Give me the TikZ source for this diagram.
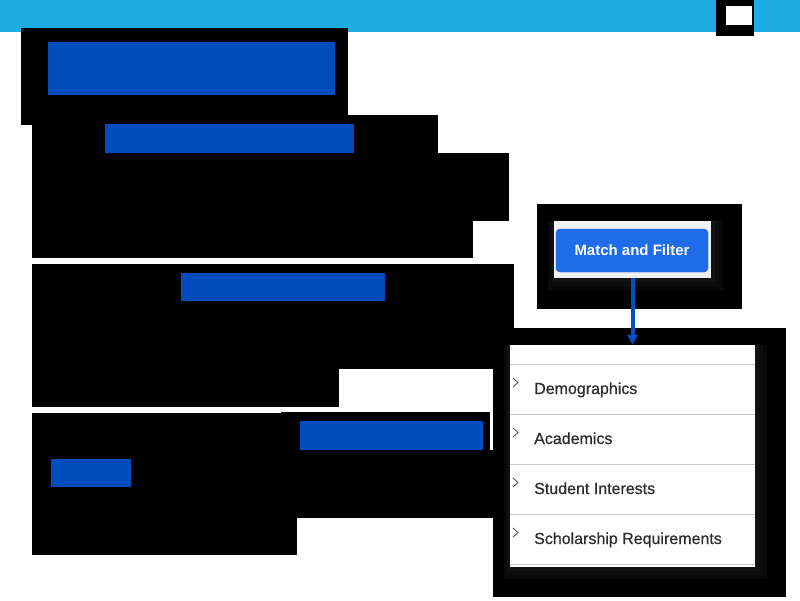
\documentclass[tikz,border=0pt]{standalone}
\usepackage{fontspec}
\setmainfont{Liberation Sans}
\newfontfamily\itemfont[FakeBold=0.6]{Liberation Sans}
\usetikzlibrary{arrows.meta,positioning}

\definecolor{banner}{RGB}{30,171,226}
\definecolor{barblue}{RGB}{0,77,190}
\definecolor{btnblue}{RGB}{31,108,235}
\definecolor{btnedge}{RGB}{22,84,196}
\definecolor{arrowblue}{RGB}{4,78,196}
\definecolor{panelgray}{RGB}{238,242,243}
\definecolor{rulegray}{RGB}{200,205,208}
\definecolor{itemtext}{RGB}{45,45,45}

\tikzset{
  btn/.style={rounded corners=4pt,fill=btnblue,draw=btnedge,text=white,
    minimum width=152pt,minimum height=43pt,inner sep=0pt,
    font=\bfseries\fontsize{15}{18}\selectfont},
  itemlabel/.style={anchor=base west,inner sep=0pt,text=itemtext,
    font=\itemfont\fontsize{16}{19}\selectfont},
  chev/.style={draw=black!70,line width=0.8pt},
  sepline/.style={draw=rulegray,line width=1pt},
  flow/.style={draw=arrowblue,line width=4pt,-{Triangle[width=10pt,length=10pt]}}
}

\begin{document}
\begin{tikzpicture}[x=1pt,y=-1pt]
  \useasboundingbox (0,0) rectangle (800,600);

  % top banner
  \fill[banner] (0,0) rectangle (800,32);
  \fill (716,0) rectangle (754,36);
  \fill[white] (726,6) rectangle (752,25);

  % blacked out blocks
  \begin{scope}[every path/.style={fill=black}]
    \fill (21,28) rectangle (348,125);
    \fill (32,115) rectangle (438,153);
    \fill (32,153) rectangle (509,221);
    \fill (32,221) rectangle (473,258);
    \fill (32,264) rectangle (514,369);
    \fill (32,369) rectangle (339,407);
    \fill (32,413) rectangle (297,555);
    \fill (281,412) rectangle (490,450);
    \fill (281,450) rectangle (493,518);
    \fill (537,204) rectangle (742,309);
    \fill (493,328) rectangle (786,597);
  \end{scope}

  % blue headings
  \begin{scope}[every path/.style={fill=barblue}]
    \fill (48,42) rectangle (335,95);
    \fill (105,124) rectangle (354,153);
    \fill (181,273) rectangle (385,301);
    \fill (300,421) rectangle (483,450);
    \fill (51,459) rectangle (131,487);
  \end{scope}

  % soft shadows
  \foreach \d/\c in {12/97,8/95,4/93} {
    \fill[black!\c] (554-\d/2,221) rectangle (711+\d,278+\d);
    \fill[black!\c] (510-\d/2,345) rectangle (755+\d,567+\d);
  }

  % button and list
  \node[fill=panelgray,minimum width=157pt,minimum height=57pt,inner sep=0pt]
    (mfpanel) at (632.5,249.5) {};
  \node[btn] (mfbtn) at (632,250.5) {Match and Filter};
  \node[fill=white,minimum width=245pt,minimum height=222pt,inner sep=0pt]
    (filterlist) at (632.5,456) {};

  \foreach \y in {364,414,464,514,564}
    \draw[sepline] (510,\y) -- (755,\y);

  \foreach \name [count=\i] in {Demographics,Academics,Student Interests,Scholarship Requirements} {
    \node[itemlabel] (item\i) at (534,344+50*\i) {\name};
    \draw[chev] (513,328+50*\i) -- (518,332.5+50*\i) -- (513,337+50*\i);
  }

  \draw[flow] (mfpanel.south) -- (filterlist.north);

\end{tikzpicture}
\end{document}
